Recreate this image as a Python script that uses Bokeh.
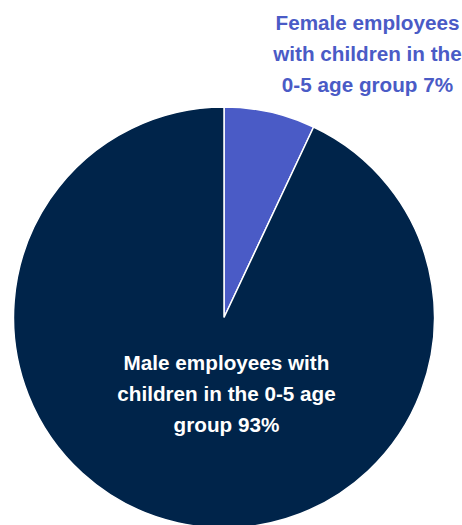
import math
from bokeh.plotting import figure
from bokeh.models import Range1d, ColumnDataSource
from bokeh.core.properties import value
from bokeh.embed import file_html
from bokeh.resources import INLINE

categories = ["Female employees with children in the 0-5 age group",
              "Male employees with children in the 0-5 age group"]
shares = [7, 93]
colors = ["#4A5BC6", "#00244A"]
label_texts = ["Female employees\nwith children in the\n0-5 age group 7%",
               "Male employees with\nchildren in the 0-5 age\ngroup 93%"]
label_colors = ["#4A5BC6", "#FFFFFF"]

W, H = 462, 525
p = figure(width=W, height=H, output_backend="svg", toolbar_location=None,
           x_range=Range1d(0, W), y_range=Range1d(-H, 0),
           min_border=0)
p.axis.visible = False
p.grid.visible = False
p.outline_line_color = None
p.background_fill_color = "white"

cx, cy, r = 223.5, -317, 210.5
total = sum(shares)
starts, ends = [], []
acc = 0.0
for s in shares:
    a0 = math.pi / 2 - 2 * math.pi * acc / total
    acc += s
    a1 = math.pi / 2 - 2 * math.pi * acc / total
    starts.append(a0)
    ends.append(a1)

src = ColumnDataSource(dict(cat=categories, share=shares, color=colors,
                            start=starts, end=ends))
p.wedge(x=cx, y=cy, radius=r, start_angle="start", end_angle="end",
        direction="clock", fill_color="color", line_color="white",
        line_width=1.5, source=src)

lx = [367, 226]
ly = [-53, -393]
lsrc = ColumnDataSource(dict(x=lx, y=ly, t=label_texts, c=label_colors))
p.text(x="x", y="y", text="t", text_color="c", source=lsrc,
       text_font=value("Liberation Sans"), text_font_style="bold",
       text_font_size="20.7px", text_align="center", text_baseline="middle",
       text_line_height=1.36)

open("out.html", "w").write(file_html(p, INLINE))
